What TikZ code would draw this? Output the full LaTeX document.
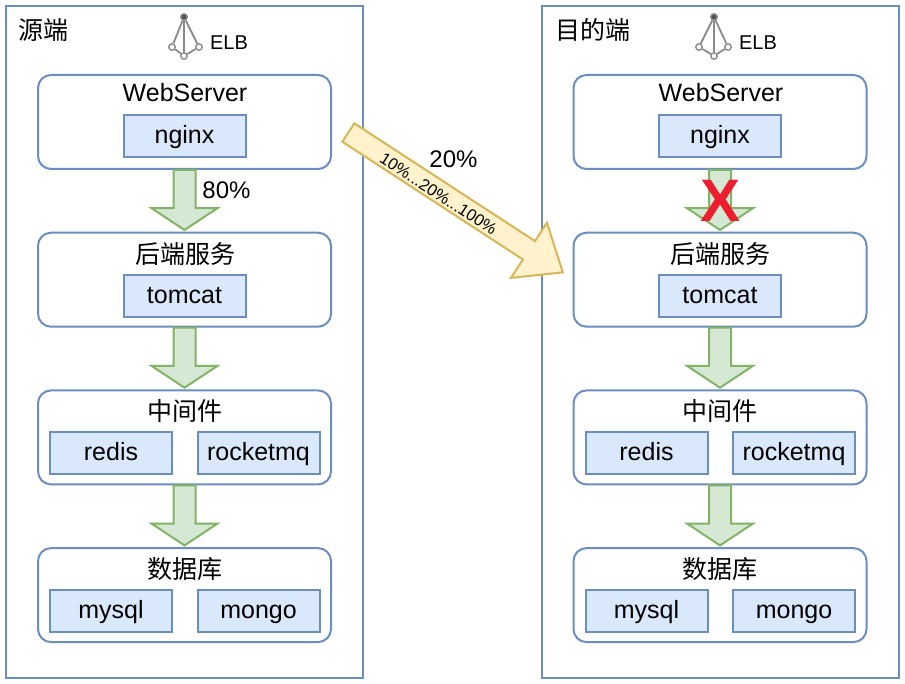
\documentclass[tikz,border=0pt]{standalone}
\usepackage{fontspec}
\setmainfont{Liberation Sans}
\newfontfamily\cjk{Noto Sans CJK SC}
\usetikzlibrary{positioning, shapes.arrows}
\definecolor{blueline}{HTML}{6C8EBF}
\definecolor{bluefill}{HTML}{DAE8FC}
\definecolor{greenline}{HTML}{82B366}
\definecolor{greenfill}{HTML}{D5E8D4}
\definecolor{yellowline}{HTML}{D6B656}
\definecolor{yellowfill}{HTML}{FFF2CC}
\definecolor{crossred}{HTML}{ED1C2E}
\definecolor{elbgray}{HTML}{8A8A8A}
\newcommand{\bigtext}{\fontsize{25}{30}\selectfont}

\begin{document}
\begin{tikzpicture}[
                x=1pt, y=-1pt,
                node distance = 63.7pt,
                panel/.style = {rectangle, draw=blueline, line width=2pt, minimum width=357pt, minimum height=672pt, outer sep=0pt},
                group/.style = {rectangle, rounded corners=13pt, draw=blueline, line width=2pt, minimum width=293pt, minimum height=94pt, outer sep=0pt},
                item/.style = {rectangle, draw=blueline, fill=bluefill, line width=2pt, minimum width=122pt, minimum height=42pt, outer sep=0pt, inner sep=0pt, text height=18pt, text depth=3pt, font=\bigtext},
                title/.style = {inner sep=0pt, font=\bigtext},
                cjktitle/.style = {inner sep=0pt, font=\bigtext\cjk},
                flow/.style = {single arrow, draw=greenline, fill=greenfill, line width=2pt, inner sep=0pt, text height=20pt, text depth=0pt, text width=0pt, minimum width=65pt, minimum height=60pt, single arrow head extend=22pt, single arrow tip angle=113, rotate=-90, anchor=tail},
                bigflow/.style = {flow, draw=yellowline, fill=yellowfill, minimum height=256pt, single arrow tip angle=78.5, rotate=56.9},
                elbline/.style = {draw=elbgray, line width=1.8pt},
                elbdot/.style = {circle, draw=elbgray, fill=white, line width=1.4pt, inner sep=0pt, minimum size=6.5pt}
              ]
              \useasboundingbox (0,0) rectangle (905,684);
              % Panels
              \node[panel] (src) at (184.5,342) {};
              \node[panel] (dst) at (720.5,342) {};
              \node[cjktitle] (srclabel) at (44,30) {源端};
              \node[cjktitle] (dstlabel) at (593,30) {目的端};
              % Source side
              \node[group] (srcweb) at (184.5,122) {};
              \node[group, below=of srcweb] (srcback) {};
              \node[group, below=of srcback] (srcmid) {};
              \node[group, below=of srcmid] (srcdata) {};
              \node[title] (srcwebname) at (185,93) {WebServer};
              \node[cjktitle] (srcbackname) at (185,254) {后端服务};
              \node[cjktitle] (srcmidname) at (185,411) {中间件};
              \node[cjktitle] (srcdataname) at (185,569) {数据库};
              \node[item, below=40pt of srcweb.north] (srcnginx) {nginx};
              \node[item, below=42pt of srcback.north] (srctomcat) {tomcat};
              \node[item, below=42pt of srcmid.north, xshift=-73.5pt] (srcredis) {redis};
              \node[item, below=42pt of srcmid.north, xshift=74pt] (srcrocket) {rocketmq};
              \node[item, below=42pt of srcdata.north, xshift=-73.5pt] (srcmysql) {mysql};
              \node[item, below=42pt of srcdata.north, xshift=74pt] (srcmongo) {mongo};
              \node[flow] (srcflow1) at (srcweb.south) {};
              \node[flow] (srcflow2) at (srcback.south) {};
              \node[flow] (srcflow3) at (srcmid.south) {};
              \node[title, font=\fontsize{24}{28}\selectfont] (srcshare) at (226.5,190) {80\%};
              % Target side
              \node[group] (dstweb) at (720,122) {};
              \node[group, below=of dstweb] (dstback) {};
              \node[group, below=of dstback] (dstmid) {};
              \node[group, below=of dstmid] (dstdata) {};
              \node[title] (dstwebname) at (721,93) {WebServer};
              \node[cjktitle] (dstbackname) at (720,254) {后端服务};
              \node[cjktitle] (dstmidname) at (720,411) {中间件};
              \node[cjktitle] (dstdataname) at (720,569) {数据库};
              \node[item, below=40pt of dstweb.north] (dstnginx) {nginx};
              \node[item, below=42pt of dstback.north] (dsttomcat) {tomcat};
              \node[item, below=42pt of dstmid.north, xshift=-73.5pt] (dstredis) {redis};
              \node[item, below=42pt of dstmid.north, xshift=74pt] (dstrocket) {rocketmq};
              \node[item, below=42pt of dstdata.north, xshift=-73.5pt] (dstmysql) {mysql};
              \node[item, below=42pt of dstdata.north, xshift=74pt] (dstmongo) {mongo};
              \node[flow] (dstflow1) at (dstweb.south) {};
              \node[flow] (dstflow2) at (dstback.south) {};
              \node[flow] (dstflow3) at (dstmid.south) {};
              % Load balancers
              \node[elbdot, fill=elbgray!60!black] (srctop) at (184,17) {};
              \node[elbdot] (srcleft) at (172,47) {};
              \node[elbdot] (srcright) at (199,47) {};
              \node[elbdot] (srcbottom) at (184,56) {};
              \draw[elbline] (srctop) -- (srcleft);
              \draw[elbline] (srctop) -- (srcright);
              \draw[elbline] (srctop) -- (srcbottom);
              \draw[elbline] (srcleft) -- (srcbottom);
              \draw[elbline] (srcright) -- (srcbottom);
              \node[title, font=\fontsize{20}{24}\selectfont] (srcelb) at (229,43) {ELB};
              \node[elbdot, fill=elbgray!60!black] (dsttop) at (714,17) {};
              \node[elbdot] (dstleft) at (699,47) {};
              \node[elbdot] (dstright) at (728,47) {};
              \node[elbdot] (dstbottom) at (714,56) {};
              \draw[elbline] (dsttop) -- (dstleft);
              \draw[elbline] (dsttop) -- (dstright);
              \draw[elbline] (dsttop) -- (dstbottom);
              \draw[elbline] (dstleft) -- (dstbottom);
              \draw[elbline] (dstright) -- (dstbottom);
              \node[title, font=\fontsize{20}{24}\selectfont] (dstelb) at (758,43) {ELB};
              % Traffic shift
              \coordinate (shiftstart) at (347.5,132);
              \node[bigflow] (shiftarrow) at (shiftstart) {};
              \node[title, font=\fontsize{24}{28}\selectfont] (shiftshare) at (453.5,159) {20\%};
              \node[title, rotate=-33.1, font=\fontsize{16.5}{20}\selectfont] (shiftsteps) at (438.5,194) {10\%...20\%...100\%};
              \node[inner sep=0pt, text=crossred, font=\fontsize{60}{60}\selectfont\bfseries] (blocked) at (720.5,201) {X};
            \end{tikzpicture}
\end{document}
